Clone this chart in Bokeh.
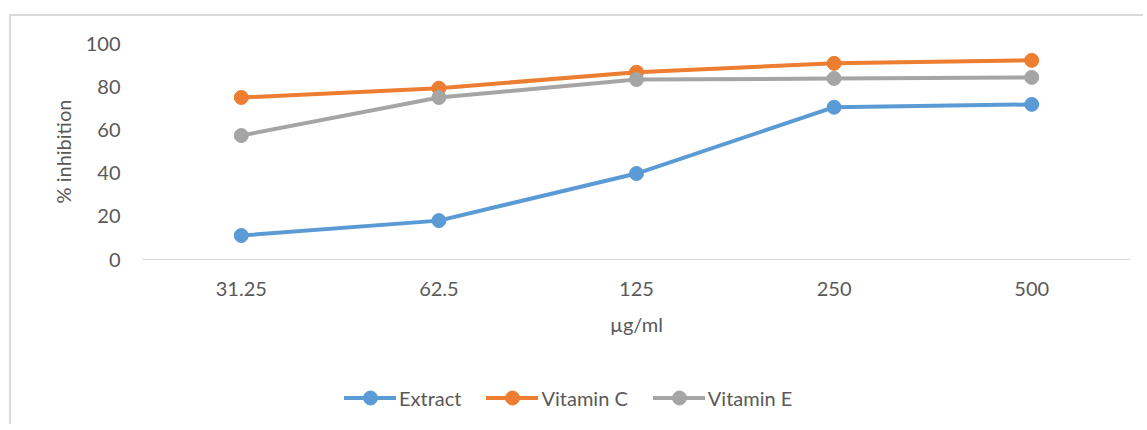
from bokeh.plotting import figure
from bokeh.models import FactorRange, Range1d, FixedTicker, Legend, LegendItem
from bokeh.layouts import column
from bokeh.embed import file_html
from bokeh.resources import INLINE

concentrations = ["31.25", "62.5", "125", "250", "500"]
extract = [11.1, 18.0, 39.8, 70.5, 71.8]
vitamin_c = [75.0, 79.3, 86.7, 90.8, 92.2]
vitamin_e = [57.4, 75.0, 83.3, 83.8, 84.3]
y_ticks = [0, 20, 40, 60, 80, 100]

series = [
    ("Extract", extract, "#5B9BD5"),
    ("Vitamin C", vitamin_c, "#ED7D31"),
    ("Vitamin E", vitamin_e, "#A5A5A5"),
]

FONT = "Lato"
TXT = "#595959"
BORDER = "2px solid #d9d9d9"

p = figure(
    x_range=FactorRange(*concentrations, range_padding=0),
    y_range=Range1d(0, 100),
    width=1134, height=334,
    output_backend="svg", toolbar_location=None,
    min_border_left=131, min_border_right=15,
    min_border_top=27, min_border_bottom=91,
)
p.styles = {"border-top": BORDER, "border-left": BORDER}
p.outline_line_color = None
p.xgrid.grid_line_color = None
p.ygrid.grid_line_color = None

for name, vals, col in series:
    p.line(concentrations, vals, line_color=col, line_width=4, line_cap="round")
    p.scatter(concentrations, vals, size=14, fill_color=col, line_color=col)

for ax in (p.xaxis[0], p.yaxis[0]):
    ax.major_tick_line_color = None
    ax.minor_tick_line_color = None
    ax.major_tick_out = 0
    ax.major_tick_in = 0
    ax.major_label_text_font = FONT
    ax.major_label_text_font_size = "20px"
    ax.major_label_text_color = TXT
    ax.axis_label_text_font = FONT
    ax.axis_label_text_font_size = "20px"
    ax.axis_label_text_color = TXT
    ax.axis_label_text_font_style = "normal"

p.xaxis.axis_line_color = "#d9d9d9"
p.xaxis.axis_line_width = 1
p.xaxis.major_label_standoff = 22
p.xaxis.axis_label = "µg/ml"
p.xaxis.axis_label_standoff = 13

p.yaxis.axis_line_color = None
p.yaxis.ticker = FixedTicker(ticks=y_ticks)
p.yaxis.major_label_standoff = 22
p.yaxis.axis_label = "% inhibition"
p.yaxis.axis_label_standoff = 8

# legend strip below the chart (its data lies outside its visible range,
# so only the legend entries show)
pl = figure(x_range=FactorRange(*concentrations, range_padding=0),
            y_range=Range1d(1000, 1100),
            width=1134, height=76, output_backend="svg", toolbar_location=None,
            min_border=0)
pl.styles = {"border-left": BORDER}
pl.outline_line_color = None
pl.axis.visible = False
pl.grid.visible = False
items = []
for name, vals, col in series:
    r1 = pl.line(concentrations, vals, line_color=col, line_width=4, line_cap="round")
    r2 = pl.scatter(concentrations, vals, size=14, fill_color=col, line_color=col)
    items.append(LegendItem(label=name, renderers=[r1, r2]))

legend = Legend(
    items=items, orientation="horizontal", location=(202, 9),
    glyph_width=52, glyph_height=35, label_standoff=3, spacing=25,
    padding=0, margin=0, border_line_color=None, background_fill_alpha=0,
    label_text_font=FONT, label_text_font_size="20px", label_text_color=TXT,
)
pl.add_layout(legend)

layout = column(p, pl, spacing=0)
layout.margin = (14, 0, 0, 9)

open("out.html", "w").write(file_html(layout, INLINE))
